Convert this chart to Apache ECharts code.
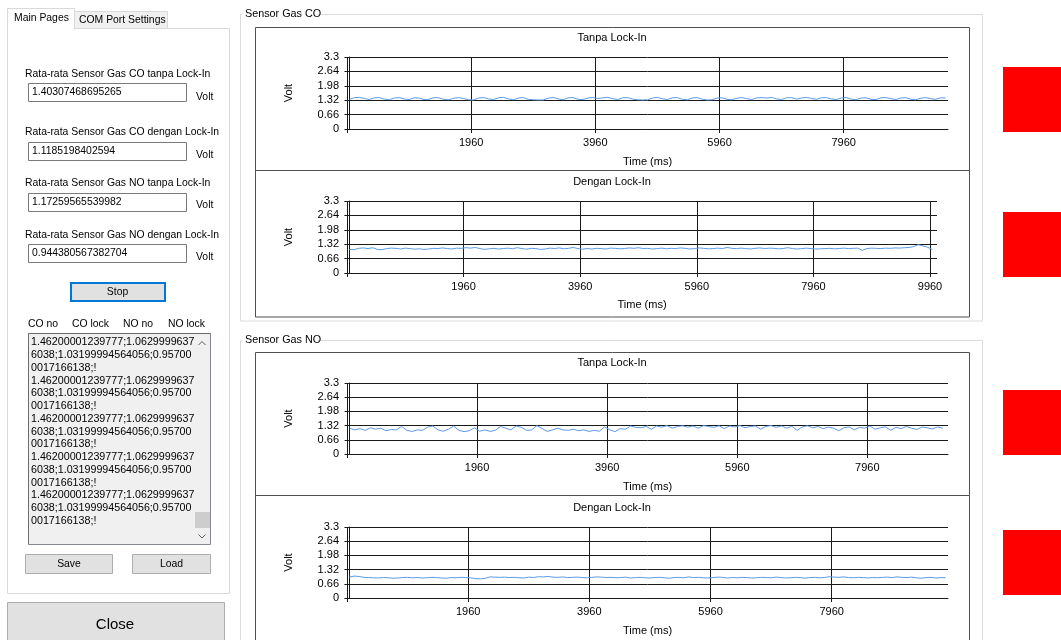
<!DOCTYPE html>
<html><head><meta charset="utf-8">
<script src="https://cdn.jsdelivr.net/npm/echarts@6/dist/echarts.min.js"></script>
<style>html,body{margin:0;padding:0;background:#fff;overflow:hidden}#c{width:1061px;height:640px}</style>
</head><body><div id="c"></div>
<script>
const FONT = '"Liberation Sans", Arial, sans-serif';

// ---------- data ----------
const timeStepMs = 80;
const timeTickLabels = [1960, 3960, 5960, 7960, 9960];
const voltTickLabels = [0, 0.66, 1.32, 1.98, 2.64, 3.3];
const chartTitles = ['Tanpa Lock-In', 'Dengan Lock-In', 'Tanpa Lock-In', 'Dengan Lock-In'];
const groupTitles = ['Sensor Gas CO', 'Sensor Gas NO'];

const coTanpaLockIn = [
1.36,1.44,1.45,1.40,1.35,1.43,1.44,1.37,1.34,1.42,
1.44,1.38,1.35,1.43,1.42,1.35,1.36,1.44,1.43,1.36,
1.34,1.41,1.44,1.39,1.34,1.33,1.42,1.44,1.38,1.35,
1.43,1.45,1.38,1.34,1.42,1.44,1.36,1.34,1.33,1.33,
1.41,1.45,1.38,1.34,1.43,1.44,1.36,1.35,1.42,1.44,
1.40,1.43,1.45,1.39,1.35,1.43,1.44,1.37,1.34,1.33,
1.34,1.42,1.45,1.39,1.35,1.43,1.44,1.36,1.34,1.42,
1.44,1.37,1.33,1.34,1.42,1.43,1.36,1.34,1.41,1.44,
1.39,1.35,1.43,1.44,1.42,1.45,1.38,1.35,1.43,1.44,
1.37,1.42,1.45,1.40,1.36,1.43,1.44,1.38,1.35,1.42,
1.44,1.37,1.34,1.42,1.43,1.36,1.35,1.43,1.44,1.39,
1.35,1.42,1.44,1.36,1.34,1.41,1.44,1.39,1.36,1.43,
1.42];

const coDenganLockIn = [
1.08,1.07,1.13,1.15,1.12,1.16,1.08,1.07,1.12,1.14,
1.13,1.10,1.14,1.12,1.09,1.11,1.08,1.10,1.13,1.12,
1.15,1.12,1.10,1.14,1.13,1.16,1.14,1.17,1.12,1.08,
1.11,1.13,1.10,1.12,1.14,1.11,1.16,1.12,1.09,1.13,
1.12,1.08,1.10,1.14,1.12,1.15,1.11,1.13,1.17,1.12,
1.09,1.12,1.10,1.13,1.12,1.10,1.14,1.13,1.11,1.12,
1.15,1.13,1.16,1.12,1.13,1.10,1.12,1.14,1.11,1.13,
1.12,1.15,1.13,1.10,1.12,1.15,1.13,1.11,1.12,1.14,
1.12,1.17,1.13,1.12,1.14,1.12,1.10,1.13,1.15,1.12,
1.14,1.13,1.11,1.12,1.16,1.12,1.10,1.12,1.14,1.12,
1.10,1.11,1.12,1.13,1.11,1.12,1.14,1.12,1.13,1.14,
1.04,1.12,1.14,1.13,1.12,1.14,1.13,1.15,1.14,1.16,
1.17,1.21,1.30,1.24,1.18,1.07];

const noTanpaLockIn = [
1.20,1.12,1.18,1.10,1.22,1.15,1.20,1.08,1.14,1.12,
1.28,1.10,1.05,1.12,1.10,1.25,1.30,1.12,1.06,1.15,
1.30,1.10,1.04,1.08,1.22,1.06,1.12,1.05,1.10,1.28,
1.20,1.12,1.30,1.24,1.10,1.12,1.32,1.18,1.05,1.12,
1.20,1.12,1.10,1.15,1.08,1.12,1.05,1.10,1.06,1.26,
1.12,1.04,1.18,1.15,1.30,1.24,1.22,1.28,1.15,1.30,
1.25,1.32,1.20,1.28,1.31,1.25,1.30,1.20,1.32,1.28,
1.24,1.31,1.18,1.30,1.26,1.32,1.22,1.28,1.30,1.15,
1.28,1.32,1.24,1.30,1.20,1.29,1.10,1.26,1.31,1.22,
1.28,1.18,1.25,1.20,1.08,1.22,1.26,1.12,1.24,1.20,
1.30,1.15,1.22,1.26,1.10,1.24,1.18,1.28,1.20,1.14,
1.25,1.22,1.16,1.26,1.20];

const noDenganLockIn = [
0.97,1.02,1.00,0.96,0.95,0.94,0.93,0.95,0.94,0.92,
0.93,0.95,0.96,0.94,0.95,0.93,0.94,0.96,0.95,0.93,
0.92,0.95,0.94,0.96,0.95,0.94,0.90,0.89,0.91,0.98,
0.97,0.96,0.97,0.95,0.96,0.94,0.93,0.97,0.95,0.99,
0.98,1.00,0.97,0.96,0.98,0.95,0.96,0.97,0.95,0.94,
0.96,0.98,0.97,0.95,0.96,0.94,0.95,0.97,0.93,0.95,
0.96,0.94,0.93,0.95,0.96,0.94,0.92,0.95,0.96,0.94,
0.98,0.95,0.96,0.94,0.93,0.95,0.97,0.96,0.93,0.95,
0.94,0.96,0.95,0.93,0.94,0.96,0.95,0.94,0.97,0.95,
0.93,0.94,0.96,0.95,0.92,0.95,0.96,0.94,0.95,0.99,
0.97,0.96,0.98,0.95,0.94,0.96,0.95,0.93,0.95,0.94,
0.96,0.97,0.95,0.98,0.96,0.95,0.97,0.94,0.92,0.95,
0.96,0.93,0.95,0.94];

const averageLabels = [
  'Rata-rata Sensor Gas CO tanpa Lock-In',
  'Rata-rata Sensor Gas CO dengan Lock-In',
  'Rata-rata Sensor Gas NO tanpa Lock-In',
  'Rata-rata Sensor Gas NO dengan Lock-In'];
const averageValues = ['1.40307468695265', '1.1185198402594', '1.17259565539982', '0.944380567382704'];
const logColumns = ['CO no', 'CO lock', 'NO no', 'NO lock'];
const logRecord = ['1.46200001239777;1.0629999637', '6038;1.03199994564056;0.95700', '0017166138;!'];
const logRecordCount = 5;

// ---------- layout ----------
const panels = [
  { values: coTanpaLockIn,  title: chartTitles[0], grid: {left: 347, top: 57,  width: 601, height: 72}, xMax: 9640,  titleY: 38,  nameGap: 27 },
  { values: coDenganLockIn, title: chartTitles[1], grid: {left: 347, top: 201, width: 590, height: 72}, xMax: 10080, titleY: 182, nameGap: 26 },
  { values: noTanpaLockIn,  title: chartTitles[2], grid: {left: 347, top: 383, width: 601, height: 71}, xMax: 9200,  titleY: 363, nameGap: 27 },
  { values: noDenganLockIn, title: chartTitles[3], grid: {left: 347, top: 527, width: 601, height: 71}, xMax: 9880,  titleY: 508, nameGap: 27 }
];
const xMin = -40;
const AX = '#1a1a1a';
const UI = 10.4;

const grids = [], xAxes = [], yAxes = [], series = [];
panels.forEach((p, i) => {
  grids.push(Object.assign({ containLabel: false, outerBoundsMode: 'none' }, p.grid));
  const ticks = timeTickLabels.filter(t => t <= p.xMax);
  xAxes.push({
    type: 'value', gridIndex: i, min: xMin, max: p.xMax,
    name: 'Time (ms)', nameLocation: 'middle', nameGap: p.nameGap,
    nameTextStyle: { fontSize: 11, fontFamily: FONT, color: '#000' },
    axisLine: { show: true, onZero: false, lineStyle: { color: AX, width: 1 } },
    axisTick: { show: true, length: 4, inside: false, customValues: [xMin].concat(ticks), lineStyle: { color: AX } },
    axisLabel: { customValues: ticks, margin: 8, fontSize: 11, fontFamily: FONT, color: '#000',
      formatter: v => String(v) },
    splitLine: { show: true, lineStyle: { color: AX, width: 1 } }
  });
  yAxes.push({
    type: 'value', gridIndex: i, min: 0, max: 3.3, interval: 0.66,
    name: 'Volt', nameLocation: 'middle', nameRotate: 90, nameGap: 53,
    nameTextStyle: { fontSize: 11, fontFamily: FONT, color: '#000' },
    axisLine: { show: true, lineStyle: { color: AX, width: 1 } },
    axisTick: { show: true, length: 5, inside: false, lineStyle: { color: AX } },
    axisLabel: { margin: 8, fontSize: 11, fontFamily: FONT, color: '#000',
      formatter: v => String(+v.toFixed(2)) },
    splitLine: { show: true, lineStyle: { color: AX, width: 1 } }
  });
  series.push({
    type: 'line', xAxisIndex: i, yAxisIndex: i, showSymbol: false, symbol: 'none',
    lineStyle: { color: '#5b9be8', width: 1 }, itemStyle: { color: '#5b9be8' },
    data: p.values.map((v, k) => [k * timeStepMs, v]), z: 5
  });
});

// ---------- UI graphics ----------
const g = [];
function rect(x, y, w, h, fill, stroke, lw, z) {
  g.push({ type: 'rect', shape: { x, y, width: w, height: h }, z: z || 0,
    style: { fill: fill || 'none', stroke: stroke || 'none', lineWidth: lw || 1 }, silent: true });
}
function text(str, x, y, opt) {
  opt = opt || {};
  g.push({ type: 'text', x, y, z: opt.z || 10, silent: true,
    style: { text: str, fill: opt.color || '#000', font: (opt.size || UI) + 'px ' + FONT,
      align: opt.align || 'left', verticalAlign: 'middle',
      textAlign: opt.align || 'left', textVerticalAlign: 'middle',
      lineHeight: opt.lineHeight } });
}
function line(points, color, z) {
  g.push({ type: 'polyline', shape: { points }, z: z || 10, silent: true, style: { stroke: color, lineWidth: 1, fill: 'none' } });
}

// group boxes
rect(240.5, 14.5, 742, 306.5, null, '#dcdcdc', 1, 0);
rect(240.5, 340.5, 742, 330, null, '#dcdcdc', 1, 0);
rect(242, 7, 76, 14, '#fff', null, 1, 1);
rect(242, 333, 76, 14, '#fff', null, 1, 1);
text(groupTitles[0], 245, 14, { size: 10.8 });
text(groupTitles[1], 245, 340, { size: 10.8 });
// chart frames
rect(255.5, 27.5, 714, 143, null, '#505050', 1, 1);
rect(255.5, 170.5, 714, 146.5, null, '#505050', 1, 1);
rect(255.5, 352.5, 714, 143, null, '#505050', 1, 1);
rect(255.5, 495.5, 714, 160, null, '#505050', 1, 1);
panels.forEach(p => text(p.title, 612, p.titleY, { align: 'center', size: 11 }));
// red indicators
rect(1003, 67, 60, 65, '#ff0000');
rect(1003, 212, 60, 65, '#ff0000');
rect(1003, 390, 60, 65, '#ff0000');
rect(1003, 530, 60, 65, '#ff0000');

// tab control
rect(7.5, 28.5, 222, 565, '#fff', '#d9d9d9', 1, 0);
rect(74.5, 11.5, 93, 17, '#f0f0f0', '#d9d9d9', 1, 1);
rect(7.5, 8.5, 67, 21, '#fff', '#d9d9d9', 1, 2);
rect(8, 27, 66, 3, '#fff', null, 1, 3);
text('Main Pages', 14, 18);
text('COM Port Settings', 79, 20);

const rowY = [74, 132, 183, 235];
const boxY = [83.5, 142.5, 193.5, 244.5];
const voltY = [97, 155, 205, 257];
averageLabels.forEach((lab, i) => {
  text(lab, 25, rowY[i]);
  rect(28.5, boxY[i], 158, 18, '#fff', '#7a7a7a', 1, 1);
  text(averageValues[i], 32, boxY[i] + 9);
  text('Volt', 196, voltY[i]);
});
// Stop button
rect(71, 283, 94, 18, '#e1e1e1', '#0078d7', 2, 1);
text('Stop', 117.5, 292, { align: 'center' });
// log headers
const colX = [28, 72, 123, 168];
logColumns.forEach((c, i) => text(c, colX[i], 324));
// log box
rect(28.5, 333.5, 182, 211, '#f0f0f0', '#828790', 1, 1);
line([[28.5, 544], [28.5, 333.5], [210.5, 333.5]], '#6d6d6d');
const logLines = [];
for (let k = 0; k < logRecordCount; k++) logLines.push(...logRecord);
text(logLines.join('\n'), 31, 342.5 + (logLines.length - 1) * 12.75 / 2, { lineHeight: 12.75, size: 10.7 });
rect(194, 334, 16, 210, '#f0f0f0', null, 1, 12);
rect(195, 512, 15, 16, '#cdcdcd', null, 1, 13);
line([[198.5, 345], [202, 341.5], [205.5, 345]], '#606060', 14);
line([[198.5, 534.5], [202, 538], [205.5, 534.5]], '#606060', 14);
// Save / Load
rect(25.5, 554.5, 87, 19, '#e1e1e1', '#adadad', 1, 1);
rect(132.5, 554.5, 78, 19, '#e1e1e1', '#adadad', 1, 1);
text('Save', 69, 564, { align: 'center' });
text('Load', 171.5, 564, { align: 'center' });
// Close
rect(7.5, 602.5, 217, 45, '#e1e1e1', '#adadad', 1, 1);
text('Close', 115, 625, { align: 'center', size: 15 });

const chart = echarts.init(document.getElementById('c'), null, { renderer: 'canvas' });
chart.setOption({
  animation: false,
  backgroundColor: '#fff',
  grid: grids, xAxis: xAxes, yAxis: yAxes, series: series,
  graphic: { elements: g }
});
</script></body></html>
